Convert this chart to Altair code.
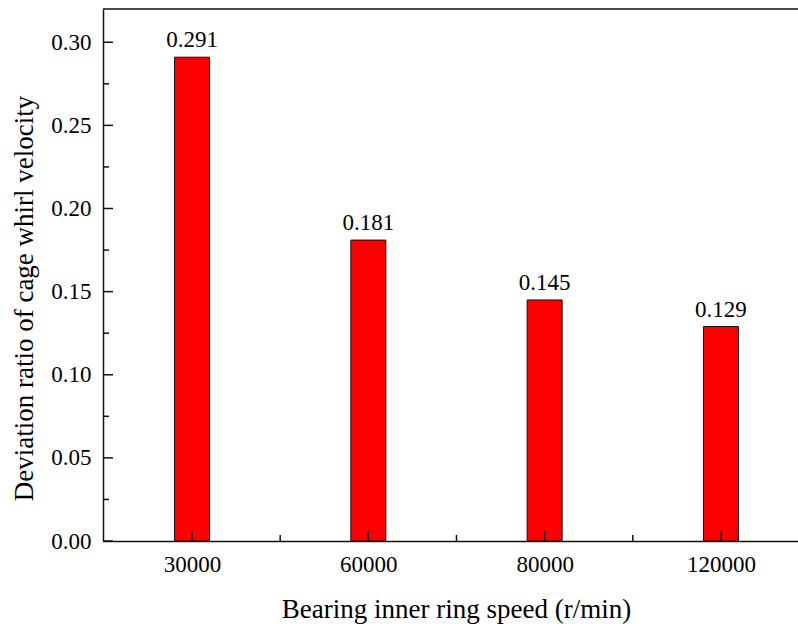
import altair as alt
import pandas as pd

speeds = ["30000", "60000", "80000", "120000"]
ratios = [0.291, 0.181, 0.145, 0.129]
x_major = [0, 1, 2, 3]
x_minor = [0.5, 1.5, 2.5]
y_major = [0.00, 0.05, 0.10, 0.15, 0.20, 0.25, 0.30]
y_minor = [0.025, 0.075, 0.125, 0.175, 0.225, 0.275]

W, H = 695, 532
FONT = "Liberation Serif"
XT = "Bearing inner ring speed (r/min)"
YT = "Deviation ratio of cage whirl velocity"

bars_df = pd.DataFrame({"idx": list(range(len(speeds))), "speed": speeds, "ratio": ratios,
                        "label": [f"{r:.3f}" for r in ratios]})
xs = alt.Scale(domain=[-0.505, 3.437], nice=False, zero=False, padding=0)
ys = alt.Scale(domain=[0, 0.32], nice=False, padding=0)

label_expr = "[" + ",".join(f"'{s}'" for s in speeds) + "][datum.value]"

bars = alt.Chart(bars_df).mark_bar(size=35, color="#ff0000", stroke="#111111", strokeWidth=1).encode(
    x=alt.X("idx:Q", scale=xs, title=XT,
            axis=alt.Axis(values=x_major, labelExpr=label_expr, ticks=False, grid=False,
                          labelPadding=12, titleX=353, titleY=76, titleBaseline="alphabetic",
                          titleAlign="center")),
    y=alt.Y("ratio:Q", scale=ys, title=YT,
            axis=alt.Axis(values=y_major, format=".2f", ticks=False, grid=False,
                          labelPadding=12, titleX=-71, titleY=289, titleBaseline="alphabetic",
                          titleAlign="center", titleAngle=270)),
)

texts = alt.Chart(bars_df).mark_text(font=FONT, fontSize=23, dy=-10, baseline="alphabetic",
                                     color="black").encode(
    x=alt.X("idx:Q", scale=xs, title=XT),
    y=alt.Y("ratio:Q", scale=ys, title=YT),
    text="label:N",
)

def tick_layer(vals, length, orient):
    df = pd.DataFrame({"v": vals})
    ch = alt.Chart(df).mark_rule(color="#111111", strokeWidth=1.5)
    if orient == "x":
        return ch.encode(x=alt.X("v:Q", scale=xs, title=XT), y=alt.value(H), y2=alt.value(H - length))
    return ch.encode(y=alt.Y("v:Q", scale=ys, title=YT), x=alt.value(0), x2=alt.value(length))

top_line = alt.Chart(pd.DataFrame({"a": [0]})).mark_rule(color="#111111", strokeWidth=1.5).encode(
    x=alt.value(0), x2=alt.value(W), y=alt.value(0))

chart = alt.layer(
    bars, texts,
    tick_layer(x_major, 10, "x"), tick_layer(x_minor, 6, "x"),
    tick_layer(y_major, 10, "y"), tick_layer(y_minor, 6, "y"),
    top_line,
).properties(
    width=W, height=H,
    autosize=alt.AutoSizeParams(type="none"),
    padding={"left": 103, "top": 9, "right": 0, "bottom": 83},
).configure(background="white").configure_view(stroke=None).configure_axis(
    labelFont=FONT, titleFont=FONT, labelFontSize=23, titleFontSize=27,
    labelColor="black", titleColor="black", titleFontWeight="normal",
    domainColor="#111111", domainWidth=1.5,
)

chart.save("out.html", embed_options={"renderer": "svg", "actions": False})
